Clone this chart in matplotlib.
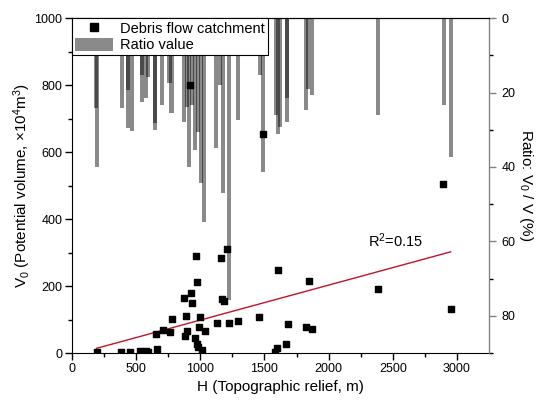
import numpy as np
import matplotlib
matplotlib.use('Agg')
import matplotlib.pyplot as plt
from matplotlib.lines import Line2D
from matplotlib.patches import Patch

# scatter: topographic relief H (m) vs potential volume V0 (x10^4 m3)
h_pts = [192, 382, 452, 530, 577, 595, 665, 652, 707, 767, 782, 872, 888, 884,
         894, 926, 939, 920, 970, 974, 958, 971, 984, 997, 990, 1010, 1033, 1127,
         1158, 1169, 1186, 1210, 1226, 1296, 1460, 1491, 1605, 1582, 1600, 1668,
         1683, 1823, 1847, 1873, 2382, 2894, 2951]
v0_pts = [4, 4, 4, 6, 7, 4, 12, 57, 68, 64, 101, 164, 111, 51,
          66, 180, 149, 800, 290, 212, 45, 27, 18, 108, 77, 8, 65, 91,
          283, 161, 155, 310, 91, 96, 107, 655, 248, 4, 14, 26,
          87, 79, 216, 72, 192, 504, 132]

# bars: ratio V0/V (%) hanging from the top axis
h_bars = [188, 196, 387, 436, 439, 470, 543, 545, 577, 592, 647, 649, 699, 760,
          776, 873, 894, 914, 933, 959, 984, 1003, 1029, 1122, 1154, 1179, 1226,
          1292, 1465, 1491, 1590, 1608, 1621, 1673, 1675, 1824, 1842, 1873, 2383,
          2899, 2952]
ratio = [24.2, 40.0, 24.2, 19.3, 29.6, 30.4, 15.3, 22.6, 21.5, 15.9, 28.2, 30.1,
         23.4, 17.5, 25.5, 27.9, 23.9, 40.0, 23.4, 35.5, 30.6, 44.3, 54.8, 34.9,
         18.0, 47.0, 75.8, 27.4, 15.3, 41.4, 26.1, 31.2, 29.3, 21.5, 27.9, 24.7,
         19.1, 20.7, 26.1, 23.4, 37.3]

# linear fit as shown in the figure
fit_slope = 0.1044
fit_icpt = -6.0
r2_label = 'R$^2$=0.15'

plt.rcParams['font.family'] = ['Liberation Sans', 'DejaVu Sans']
plt.rcParams['mathtext.fontset'] = 'custom'
plt.rcParams['mathtext.rm'] = 'Liberation Sans'
plt.rcParams['mathtext.it'] = 'Liberation Sans:italic'

fig = plt.figure(figsize=(5.37, 4.03), dpi=100)
ax = fig.add_axes([0.134, 0.124, 0.7766, 0.831])
ax2 = ax.twinx()

ax.scatter(h_pts, v0_pts, marker='s', s=22, color='black', zorder=3)
xf = np.array([min(h_pts), max(h_pts)])
ax.plot(xf, fit_slope * xf + fit_icpt, color='#c0142a', lw=1.0, zorder=2)
ax.text(2310, 318, r2_label, fontsize=10.5)

ax2.bar(h_bars, ratio, width=32, color='black', alpha=0.46, zorder=1)

ax.set_xlim(0, 3250)
ax.set_ylim(0, 1000)
ax2.set_ylim(90, 0)

ax.set_xticks([0, 500, 1000, 1500, 2000, 2500, 3000])
ax.set_xticks(np.arange(250, 3250, 500), minor=True)
ax.set_yticks([0, 200, 400, 600, 800, 1000])
ax.set_yticks(np.arange(100, 1000, 200), minor=True)
ax2.set_yticks([0, 20, 40, 60, 80])
ax2.set_yticks([10, 30, 50, 70, 90], minor=True)

for a in (ax, ax2):
    a.tick_params(which='major', direction='out', length=5, width=1, labelsize=9)
    a.tick_params(which='minor', direction='out', length=3, width=1)
ax.tick_params(axis='both', pad=2)
ax2.tick_params(axis='y', colors='#808080', labelcolor='black', pad=4)
ax2.spines['right'].set_color('#808080')
ax2.spines['left'].set_visible(False)
ax2.spines['bottom'].set_visible(False)

ax.set_xlabel('H (Topographic relief, m)', fontsize=11, labelpad=4)
ax.set_ylabel(r'V$_0$ (Potential volume, $\times$10$^4$m$^3$)', fontsize=11, labelpad=1)
ax2.set_ylabel(r'Ratio: V$_0$ / V (%)', fontsize=11, rotation=270, labelpad=14)

handles = [Line2D([], [], marker='s', color='black', ls='none', markersize=6),
           Patch(facecolor='black', alpha=0.46, edgecolor='none')]
leg = ax2.legend(handles, ['Debris flow catchment', 'Ratio value'],
                 loc='upper left', bbox_to_anchor=(0, 1), borderaxespad=0,
                 fontsize=10.5, fancybox=False, framealpha=1, edgecolor='black',
                 handlelength=2.6, handleheight=1.0, handletextpad=0.5,
                 labelspacing=0.15, borderpad=0.2)
leg.get_frame().set_linewidth(0.8)
leg.set_zorder(5)

fig.savefig('out.png', dpi=100)
